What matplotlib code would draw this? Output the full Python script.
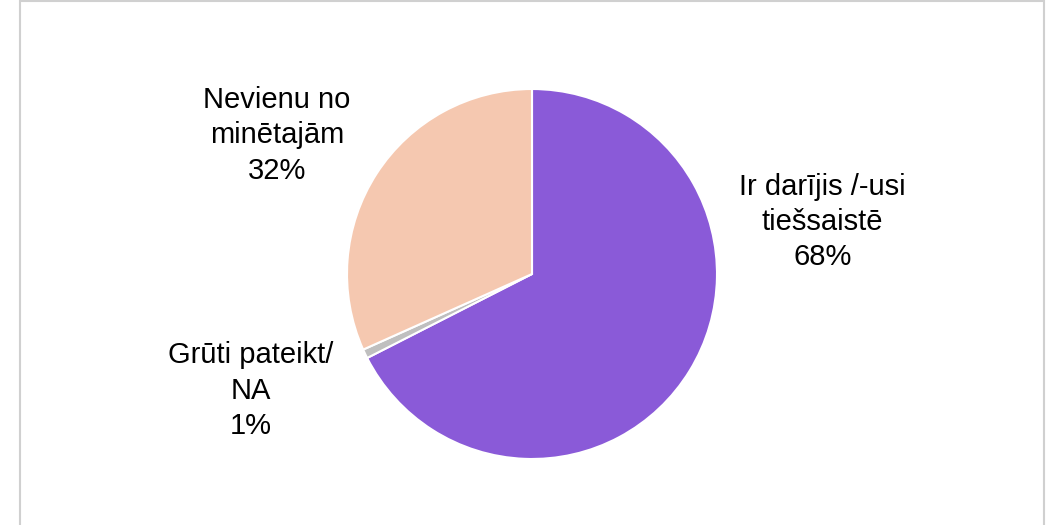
import matplotlib
matplotlib.use("Agg")
import matplotlib.pyplot as plt
from matplotlib.patches import Rectangle

# slice data (clockwise from the top)
categories = ["Ir darījis /-usi\ntiešsaistē", "Grūti pateikt/\nNA", "Nevienu no\nminētajām"]
shares = [67.5, 0.8, 31.7]
percent_labels = ["68%", "1%", "32%"]
colors = ["#8A5AD8", "#BFBFBF", "#F5C8B0"]
label_pos = [(1.57, 0.28), (-1.52, -0.63), (-1.38, 0.75)]

plt.rcParams["font.family"] = ["Liberation Sans", "DejaVu Sans"]

fig = plt.figure(figsize=(10.49, 5.25), dpi=100)
fig.patch.set_facecolor("white")

# light frame around the chart area
fig.patches.append(Rectangle((20 / 1049, -0.05), 1024 / 1049, 1.05 - 1 / 525,
                             transform=fig.transFigure, fill=False,
                             edgecolor="#D0D0D0", linewidth=1.5))

ax = fig.add_axes([0.3308, 0.1257, 0.3527, 0.7048])
ax.pie(shares, colors=colors, startangle=90, counterclock=False,
       wedgeprops=dict(edgecolor="white", linewidth=1.5))
ax.set_xlim(-1, 1)
ax.set_ylim(-1, 1)
ax.axis("off")

for cat, pct, (x, y) in zip(categories, percent_labels, label_pos):
    ax.text(x, y, cat + "\n" + pct, ha="center", va="center",
            fontsize=21, linespacing=1.33, color="black", clip_on=False)

fig.savefig("out.png", dpi=100)
